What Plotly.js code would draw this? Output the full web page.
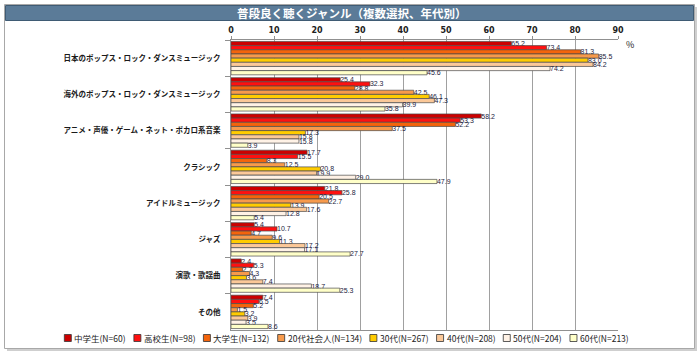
<!DOCTYPE html>
<html><head><meta charset="utf-8">
<script src="https://cdn.plot.ly/plotly-3.0.1.min.js"></script>
<style>html,body{margin:0;padding:0;background:#fff;}#chart{width:700px;height:353px;}</style>
</head><body><div id="chart"></div>
<script>
// ---- data ----
const categories = ["日本のポップス・ロック・ダンスミュージック","海外のポップス・ロック・ダンスミュージック","アニメ・声優・ゲーム・ネット・ボカロ系音楽","クラシック","アイドルミュージック","ジャズ","演歌・歌謡曲","その他"];
const seriesNames = ["中学生(N=60)","高校生(N=98)","大学生(N=132)","20代社会人(N=134)","30代(N=267)","40代(N=208)","50代(N=204)","60代(N=213)"];
const chugakusei  = [65.2, 25.4, 58.2, 17.7, 21.8, 5.4, 2.4, 7.4];
const koukousei   = [73.4, 32.3, 53.3, 15.5, 25.8, 10.7, 5.3, 6.5];
const daigakusei  = [81.3, 28.8, 52.2, 8.3, 20.5, 4.7, 2.7, 5.2];
const shakaijin20 = [85.5, 42.5, 37.5, 12.5, 22.7, 9.6, 4.3, 1.5];
const dai30       = [83.0, 46.1, 17.3, 20.8, 13.9, 11.3, 3.6, 3.2];
const dai40       = [84.2, 47.3, 15.8, 19.9, 17.6, 17.2, 7.4, 3.9];
const dai50       = [74.2, 39.9, 15.8, 29.0, 12.8, 17.1, 18.7, 3.5];
const dai60       = [45.6, 35.8, 3.9, 47.9, 5.4, 27.7, 25.3, 8.6];
const xTicks = [0,10,20,30,40,50,60,70,80,90];
const chartTitle = "普段良く聴くジャンル（複数選択、年代別）";

// ---- styles ----
const seriesValues = [chugakusei, koukousei, daigakusei, shakaijin20, dai30, dai40, dai50, dai60];
const colors = ["#cc0000","#ff1010","#f4640c","#f79a4c","#ffcc00","#fbc898","#fff2e6","#ffffc8"];

const W=700,H=353, L=231, R=618, T=40, B=330;
const px = x => (x-L)/(R-L);
const py = y => (B-y)/(B-T);

const traces = seriesValues.map((vals,i)=>({
  type:'bar', orientation:'h', name:seriesNames[i],
  y:categories, x:vals,
  marker:{color:colors[i], line:{color:'#4a4a4a', width:0.7}},
  texttemplate:'%{x:.1f}', textposition:'outside', constraintext:'none', cliponaxis:false,
  textfont:{size:7, color:'#1c1c40', family:'Liberation Sans'},
  hoverinfo:'skip', showlegend:false
}));

const shapes = [
  {type:'rect', xref:'paper', yref:'paper', x0:px(7), x1:px(697), y0:py(351), y1:py(7), fillcolor:'#cfcfcf', line:{width:0}, layer:'below'},
  {type:'rect', xref:'paper', yref:'paper', x0:px(4.5), x1:px(694.5), y0:py(348.5), y1:py(4.5), fillcolor:'#ffffff', line:{color:'#a8a8a8', width:1}, layer:'below'},
  {type:'rect', xref:'paper', yref:'paper', x0:px(5.5), x1:px(693.5), y0:py(20.5), y1:py(5.5), fillcolor:'#5b7b98', line:{color:'#3f5b74', width:1}, layer:'below'}
];
const annotations = [
  {text:'<b>'+chartTitle+'</b>', xref:'paper', yref:'paper', x:px(351), y:py(13), xanchor:'center', yanchor:'middle', showarrow:false, font:{size:11.5, color:'#ffffff', family:'Noto Sans CJK JP'}},
  {text:'%', xref:'paper', yref:'paper', x:px(630), y:py(44), xanchor:'center', yanchor:'middle', showarrow:false, font:{size:9, color:'#222', family:'Noto Sans CJK JP'}}
];

// manual legend
const legSize = 8.5;
const legFont = legSize+"px 'Noto Sans CJK JP'";
const cv = document.createElement('canvas').getContext('2d'); cv.font = legFont;
const sq=7, gapIn=2, gapOut=9;
const widths = seriesNames.map(n=>cv.measureText(n).width);
let total = widths.reduce((a,b)=>a+b,0) + seriesNames.length*(sq+gapIn) + (seriesNames.length-1)*gapOut;
let cx = 346 - total/2;
const ly = 338;
seriesNames.forEach((n,i)=>{
  shapes.push({type:'rect', xref:'paper', yref:'paper', x0:px(cx), x1:px(cx+sq), y0:py(ly+sq/2), y1:py(ly-sq/2), fillcolor:colors[i], line:{color:'#333', width:0.8}});
  annotations.push({text:n, xref:'paper', yref:'paper', x:px(cx+sq+gapIn), y:py(ly), xanchor:'left', yanchor:'middle', showarrow:false, font:{size:legSize, color:'#222', family:'Noto Sans CJK JP'}, xshift:-1});
  cx += sq+gapIn+widths[i]+gapOut;
});

const layout = {
  width:W, height:H,
  margin:{l:L, r:W-R, t:T, b:H-B, pad:0},
  paper_bgcolor:'rgba(0,0,0,0)', plot_bgcolor:'#ffffff',
  barmode:'group', bargap:0.08, bargroupgap:0,
  showlegend:false,
  xaxis:{side:'top', range:[0,90], tickvals:xTicks, ticktext:xTicks.map(String), showgrid:true, gridcolor:'#a0a0a0', gridwidth:1,
    showline:true, linecolor:'#909090', mirror:true, ticks:'outside', ticklen:3, tickcolor:'#909090', zeroline:false,
    tickfont:{size:8, color:'#222', family:'DejaVu Sans', weight:'bold'}, fixedrange:true},
  yaxis:{type:'category', autorange:'reversed', tickson:'boundaries', ticks:'outside', ticklen:5, tickcolor:'#909090',
    showline:true, linecolor:'#909090', showgrid:false, ticklabelstandoff:8,
    tickfont:{size:7.5, color:'#1a1a1a', family:'Noto Sans CJK JP', weight:'bold'}, fixedrange:true},
  shapes, annotations,
  font:{family:'Noto Sans CJK JP'}
};
Plotly.newPlot('chart', traces, layout, {displayModeBar:false, staticPlot:true});
</script></body></html>
